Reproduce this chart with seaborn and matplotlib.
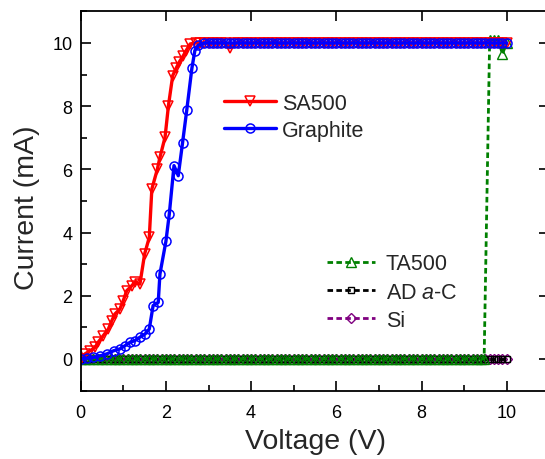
import numpy as np
import pandas as pd
import seaborn as sns
import matplotlib
matplotlib.use("Agg")
import matplotlib.pyplot as plt
from matplotlib.ticker import MultipleLocator

sns.set_style("ticks")
plt.rcParams["font.family"] = ["Liberation Sans", "DejaVu Sans"]
plt.rcParams["mathtext.fontset"] = "custom"
plt.rcParams["mathtext.rm"] = "Liberation Sans"
plt.rcParams["mathtext.it"] = "Liberation Sans:italic"

# ---- I-V sweep data ----
COMPLIANCE = 10.0  # current limit (mA)

# SA500: rising part, then the compliance plateau
sa500_v_rise = [0.0, 0.1, 0.22, 0.34, 0.41, 0.53, 0.65, 0.73, 0.80, 0.92, 1.0, 1.08,
                1.2, 1.27, 1.39, 1.5, 1.61, 1.67, 1.8, 1.86, 1.98, 2.06, 2.16, 2.24,
                2.31, 2.41, 2.47, 2.57]
sa500_i_rise = [0.0, 0.16, 0.26, 0.37, 0.53, 0.74, 0.95, 1.21, 1.42, 1.58, 1.85, 2.16,
                2.32, 2.43, 2.37, 3.32, 3.85, 5.38, 6.01, 6.38, 7.02, 8.02, 8.97, 9.2,
                9.39, 9.6, 9.75, 9.97]
sa500_v_plateau = np.round(np.arange(2.7, 10.001, 0.1), 2)
sa500_i_plateau = np.where(np.isclose(sa500_v_plateau, 3.5), 9.85, COMPLIANCE)

# Graphite
graphite_v_rise = [0.0, 0.15, 0.30, 0.45, 0.61, 0.77, 0.92, 1.04, 1.16, 1.27, 1.39,
                   1.51, 1.61, 1.70, 1.82, 1.86, 2.0, 2.08, 2.19, 2.29, 2.39, 2.49,
                   2.61, 2.68, 2.76]
graphite_i_rise = [0.0, 0.03, 0.05, 0.10, 0.16, 0.26, 0.32, 0.42, 0.53, 0.58, 0.69,
                   0.79, 0.95, 1.69, 1.79, 2.69, 3.72, 4.59, 6.12, 5.8, 6.83, 7.88,
                   9.2, 9.76, 9.93]
graphite_v_plateau = np.round(np.arange(2.9, 10.001, 0.1), 2)

# Samples that stay off over the whole sweep
sweep_v = np.round(np.arange(0.0, 10.001, 0.1), 2)
ad_ac_i = np.zeros_like(sweep_v)
si_i = np.zeros_like(sweep_v)

# TA500: off until ~9.5 V, then switches to the compliance limit
ta500_v_off = np.round(np.arange(0.0, 9.401, 0.1), 2)
ta500_v_on = [9.47, 9.6, 9.7, 9.8, 9.9, 10.0]
ta500_i_on = [0.0, 10.1, 10.1, 10.1, 9.65, 10.0]

sa500 = pd.DataFrame({"V": np.concatenate([sa500_v_rise, sa500_v_plateau]),
                      "I": np.concatenate([sa500_i_rise, sa500_i_plateau])})
graphite = pd.DataFrame({"V": np.concatenate([graphite_v_rise, graphite_v_plateau]),
                         "I": np.concatenate([graphite_i_rise,
                                              np.full(len(graphite_v_plateau), COMPLIANCE)])})
ta500 = pd.DataFrame({"V": np.concatenate([ta500_v_off, ta500_v_on]),
                      "I": np.concatenate([np.zeros(len(ta500_v_off)), ta500_i_on])})
ad_ac = pd.DataFrame({"V": sweep_v, "I": ad_ac_i})
si = pd.DataFrame({"V": sweep_v, "I": si_i})

# ---- figure ----
W, H = 545, 460
fig = plt.figure(figsize=(W / 100, H / 100), dpi=100)
ax = fig.add_axes([80.7 / W, 68.4 / H, 468.6 / W, 379.2 / H])

DASH = (2.0, 1.2)


def draw(df, color, marker, ms, lw, dashed, mew):
    kws = dict(color=color, marker=marker, markersize=ms, markerfacecolor="none",
               markeredgecolor=color, markeredgewidth=mew, linewidth=lw)
    if dashed:
        kws["dashes"] = DASH
    sns.lineplot(data=df, x="V", y="I", ax=ax, estimator=None, sort=False, **kws)
    return ax.lines[-1]


h_si = draw(si, "#800080", "D", 5.0, 2.0, True, 1.0)
h_ad = draw(ad_ac, "#000000", "s", 4.0, 2.0, True, 1.0)
h_ta = draw(ta500, "#008000", "^", 6.5, 2.0, True, 1.0)
h_sa = draw(sa500, "#FF0000", "v", 7.0, 2.4, False, 1.1)
h_gr = draw(graphite, "#0000FF", "o", 6.5, 2.4, False, 1.1)

ax.set_xlim(0, 11)
ax.set_ylim(-1, 11)
ax.xaxis.set_major_locator(MultipleLocator(2))
ax.xaxis.set_minor_locator(MultipleLocator(1))
ax.yaxis.set_major_locator(MultipleLocator(2))
ax.yaxis.set_minor_locator(MultipleLocator(1))

for s in ax.spines.values():
    s.set_linewidth(1.3)
    s.set_color("black")

ax.tick_params(which="both", direction="in", top=True, right=True, width=1.2,
               colors="black", labelsize=13)
ax.tick_params(which="major", length=7)
ax.tick_params(which="minor", length=4, top=False, right=False)
ax.tick_params(axis="x", pad=10)
ax.tick_params(axis="y", pad=6)

ax.set_xlabel("Voltage (V)", fontsize=20.5)
ax.set_ylabel("Current (mA)", fontsize=20.5)
ax.xaxis.set_label_coords(0.5, -0.098)
ax.yaxis.set_label_coords(-0.087, 0.485)

leg1 = ax.legend([h_sa, h_gr], ["SA500", "Graphite"], loc="upper left",
                 bbox_to_anchor=(224 / W, 1 - 94 / H), bbox_transform=fig.transFigure,
                 frameon=False, fontsize=15.5, numpoints=1, handlelength=2.42,
                 handletextpad=0.28, labelspacing=0.28, borderpad=0, borderaxespad=0)
ax.add_artist(leg1)
ax.legend([h_ta, h_ad, h_si], ["TA500", r"AD $\mathit{a}$-C", "Si"], loc="upper left",
          bbox_to_anchor=(327 / W, 1 - 254.5 / H), bbox_transform=fig.transFigure,
          frameon=False, fontsize=15.5, numpoints=1, handlelength=2.23,
          handletextpad=0.5, labelspacing=0.33, borderpad=0, borderaxespad=0)

fig.savefig("out.png", dpi=100)
